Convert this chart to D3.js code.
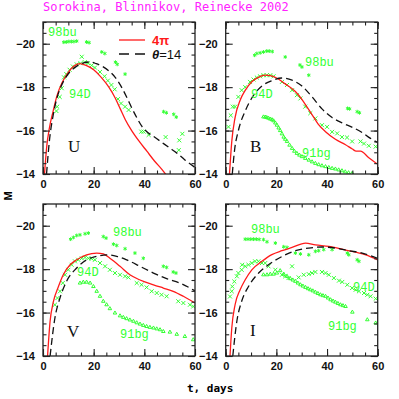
<!DOCTYPE html>
<html>
<head>
<meta charset="utf-8">
<script src="https://cdn.jsdelivr.net/npm/d3@7"></script>
<style>
  body { margin: 0; background: #fff; }
  svg { display: block; }
</style>
</head>
<body>
<svg id="chart" width="399" height="399"></svg>
<script>
// light curves: [t days, M]
const uModel4pi = [[0.6,-14],[1.5,-15.3],[2.5,-16.1],[4,-16.9],[5.5,-17.6],[7.5,-18.2],[9.5,-18.6],[12,-18.95],[14.5,-19.08],[17,-19.0],[20,-18.8],[23,-18.45],[26,-18.0],[28.5,-17.5],[30.5,-17.0],[32.5,-16.5],[35,-16.0],[38,-15.5],[41,-15.05],[44,-14.6],[47,-14.2],[49,-13.9]];
const uModel14 = [[1.4,-14],[2.5,-15.5],[4,-16.7],[5.5,-17.5],[7,-18.0],[9,-18.45],[11,-18.75],[13.5,-18.98],[16,-19.12],[18.5,-19.16],[21,-19.08],[23.5,-18.95],[26,-18.75],[28.5,-18.45],[31,-18.0],[33,-17.55],[35,-17.05],[37,-16.6],[39,-16.2],[41.5,-15.9],[44,-15.7],[47,-15.45],[50,-15.2],[53,-14.95],[56,-14.65],[60,-14.3]];
const u98bu = [[8.2,-20.07],[9.2,-20.08],[10.2,-20.1],[11.2,-20.1],[12.2,-20.1],[13.3,-20.12],[17.2,-20.08],[18.2,-20.05],[23.2,-19.62],[24.4,-19.55],[28.6,-19.15],[29.3,-19.05],[32.4,-18.6],[47.6,-16.87],[48.7,-16.82],[51.6,-16.75],[52.6,-16.62]];
const u94D = [[5.3,-16.9],[5.6,-17.1],[6.6,-17.55],[7.4,-17.95],[8.3,-18.45],[9.2,-18.6],[10.5,-18.8],[11.8,-18.95],[13.3,-19.05],[14.8,-19.1],[15.3,-19.4],[16.5,-19.15],[17.8,-19.1],[19.2,-19.0],[20.5,-18.9],[22.5,-18.7],[24.3,-18.5],[25.6,-18.3],[27,-18.1],[28.3,-17.9],[29.6,-17.45],[30.8,-17.25],[32.4,-17.1],[33.8,-16.95],[38.8,-15.95],[39.7,-15.95],[41.7,-15.8],[48.4,-15.7],[53.6,-15.1],[53.8,-15.55],[55,-15.85]];

const bModel4pi = [[1.5,-14],[2.4,-15.5],[3.7,-16.6],[5.7,-17.4],[7.7,-17.85],[10.3,-18.25],[12.9,-18.45],[15.6,-18.55],[18,-18.52],[20.5,-18.4],[23.5,-18.15],[27.5,-17.8],[30,-17.45],[32,-17.1],[34,-16.75],[36.5,-16.3],[39.4,-15.95],[43.3,-15.6],[47.3,-15.35],[50,-15.15],[51.5,-15.05],[53.2,-15.05],[56.5,-14.75],[60,-14.45]];
const bModel14 = [[2.6,-14],[3.5,-15.1],[5,-16.0],[7.7,-16.9],[10.3,-17.5],[14.3,-18.05],[18.2,-18.3],[22.2,-18.42],[26.2,-18.32],[30.1,-18.05],[34.1,-17.55],[38,-17.0],[42,-16.6],[46,-16.35],[50,-16.15],[54,-15.9],[57,-15.65],[60,-15.45]];
const b98bu = [[11.4,-19.47],[12.3,-19.55],[13.6,-19.58],[14.9,-19.62],[16.2,-19.66],[17.2,-19.66],[18.4,-19.64],[23.5,-19.39],[29.3,-19.02],[30.1,-18.93],[32.8,-18.55],[48.1,-17.02],[48.9,-17.0],[51.9,-16.87],[52.8,-16.82]];
const b94D = [[1.1,-16.17],[2,-16.7],[2.8,-17.1],[3.7,-17.1],[5,-17.55],[6.3,-17.86],[7.7,-18.0],[9.6,-18.24],[11,-18.35],[12.3,-18.44],[13.6,-18.5],[14.9,-18.55],[16.2,-18.55],[17.6,-18.55],[18.9,-18.5],[22.2,-18.24],[24.2,-18.1],[26.2,-17.86],[28.1,-17.63],[29.5,-17.48],[31.4,-17.1],[33.4,-16.8],[35.4,-16.56],[38,-16.25],[40,-16.17],[42,-15.94],[44,-15.87],[45.9,-15.7],[47.9,-15.68],[49.9,-15.5],[53.2,-15.5],[54.6,-15.4],[56.5,-15.3],[59.2,-15.26]];
const b91bg = [[14.9,-16.63],[15.6,-16.62],[16.2,-16.6],[16.9,-16.57],[17.6,-16.53],[18.3,-16.5],[18.9,-16.45],[19.6,-16.35],[20.2,-16.25],[20.9,-16.12],[21.5,-16.0],[22.2,-15.85],[22.9,-15.7],[23.5,-15.6],[24.2,-15.5],[25.2,-15.33],[26.2,-15.18],[27.1,-15.05],[28.1,-14.95],[29.1,-14.87],[30.1,-14.8],[31.4,-14.72],[32.8,-14.64],[34.1,-14.56],[35.4,-14.49],[36.7,-14.43],[38,-14.38],[39.4,-14.34],[40.7,-14.3],[42,-14.26],[43.3,-14.23],[44.6,-14.19],[45.9,-14.15],[47.2,-14.1],[48.5,-14.06],[49.9,-14.03]];

const vModel4pi = [[1.8,-14],[2.8,-15.6],[4.1,-16.5],[6.1,-17.2],[8,-17.74],[10.7,-18.2],[13.3,-18.43],[17.2,-18.66],[21.2,-18.74],[23.8,-18.7],[26.4,-18.5],[30.4,-18.13],[34.3,-17.74],[38.3,-17.5],[43.6,-17.28],[47.5,-17.13],[51.4,-16.98],[55.4,-16.75],[60,-16.44]];
const vModel14 = [[2.8,-14],[4.7,-15.75],[6.7,-16.67],[9.3,-17.44],[13.3,-18.05],[17.2,-18.43],[21.2,-18.59],[25.1,-18.66],[29.1,-18.59],[33,-18.43],[38.3,-18.13],[43.6,-17.82],[48.8,-17.56],[54,-17.36],[60,-17.0]];
const v98bu = [[10.9,-19.38],[12,-19.46],[13.3,-19.55],[14.6,-19.58],[16.6,-19.63],[17.9,-19.66],[23.8,-19.5],[24.9,-19.43],[27.8,-19.15],[29.1,-19.09],[32.4,-18.94],[36.3,-18.74],[39.6,-18.5],[47.5,-18.13],[48.8,-18.08],[51.4,-17.87],[52.5,-17.82]];
const v94D = [[4.7,-16.36],[5.7,-16.67],[6.7,-16.98],[7.8,-17.36],[8.7,-17.74],[10,-17.97],[11.3,-18.2],[12.6,-18.36],[13.9,-18.43],[15.3,-18.5],[16.6,-18.54],[17.9,-18.5],[19.2,-18.48],[20.5,-18.43],[22.5,-18.28],[24.5,-18.13],[26.4,-17.97],[28.4,-17.82],[30.4,-17.74],[32.4,-17.67],[33.7,-17.62],[37,-17.36],[38.9,-17.28],[40.9,-17.16],[42.9,-16.98],[44.9,-16.9],[46.8,-16.82],[48.8,-16.75],[53.4,-16.52],[55.4,-16.44],[58,-16.36],[59.3,-16.28]];
const v91bg = [[14.6,-17.36],[15.9,-17.4],[17.2,-17.4],[18.6,-17.36],[19.9,-17.2],[21.2,-16.98],[22.5,-16.75],[23.8,-16.52],[25.1,-16.36],[26.4,-16.18],[28.4,-15.98],[30.4,-15.85],[31.7,-15.78],[33,-15.72],[34.3,-15.66],[35.7,-15.6],[37,-15.53],[38.3,-15.47],[39.6,-15.41],[40.9,-15.36],[42.2,-15.32],[43.6,-15.29],[44.9,-15.25],[46.2,-15.21],[47.5,-15.13],[50.1,-15.1],[52.8,-15.0],[56,-14.9],[59.3,-14.75]];

const iModel4pi = [[1.7,-14],[2.4,-15.29],[3.7,-16.36],[5.7,-17.05],[7.7,-17.51],[10.3,-17.97],[14.3,-18.36],[18.2,-18.67],[22.2,-18.85],[26.2,-19.0],[31.5,-19.2],[35.4,-19.12],[40.7,-19.05],[46,-18.92],[51.3,-18.78],[55.3,-18.66],[60,-18.43]];
const iModel14 = [[2.8,-14],[4.4,-15.6],[6.3,-16.52],[9,-17.2],[13,-17.82],[16.9,-18.2],[22.2,-18.58],[27.5,-18.85],[32.8,-18.97],[38,-19.02],[43.3,-18.97],[48.6,-18.85],[53.9,-18.74],[60,-18.5]];
const i98bu = [[7.7,-19.38],[8.8,-19.38],[9.9,-19.38],[11,-19.38],[12.1,-19.38],[13.2,-19.37],[14.9,-19.36],[16.3,-19.26],[19.6,-19.2],[22.9,-19.03],[24.2,-19.0],[27.5,-18.74],[29.5,-18.7],[32.8,-18.66],[35.4,-18.82],[36.7,-18.85],[38.7,-18.9],[42,-18.9],[48,-18.74],[48.6,-18.66],[51.9,-18.43],[52.6,-18.36]];
const i94D = [[1.7,-16.74],[2.4,-16.98],[2.6,-17.2],[3.4,-17.43],[4.4,-17.67],[5,-17.82],[6.3,-17.97],[6.5,-18.2],[7.7,-18.13],[9,-18.2],[10.3,-18.28],[11.6,-18.36],[12.9,-18.36],[14.3,-18.28],[15.6,-18.28],[16.9,-18.13],[19.6,-17.97],[22.2,-17.74],[23.5,-17.67],[24.8,-17.59],[26.2,-18.13],[28.8,-17.62],[30.8,-17.74],[32.8,-17.77],[34.1,-17.82],[35.4,-17.87],[38,-17.87],[39.4,-17.82],[40.7,-17.74],[42.7,-17.59],[44.7,-17.47],[46,-17.41],[48,-17.28],[49.9,-17.13],[51.3,-17.05],[52.6,-16.98],[54.6,-16.9],[55.9,-16.82],[57.2,-16.75],[59.2,-16.64]];
const i91bg = [[14.9,-17.74],[16.3,-17.74],[17.6,-17.77],[18.9,-17.77],[20.2,-17.82],[21.5,-17.93],[22.9,-17.77],[24.2,-17.67],[25.5,-17.56],[26.5,-17.5],[27.5,-17.44],[28.5,-17.36],[29.5,-17.28],[30.5,-17.22],[31.5,-17.16],[32.5,-17.1],[33.4,-17.05],[34.4,-17.0],[35.4,-16.94],[36.4,-16.88],[37.4,-16.82],[38.4,-16.78],[39.4,-16.75],[40.4,-16.67],[41.4,-16.59],[42.4,-16.53],[43.3,-16.48],[44.3,-16.42],[45.3,-16.36],[46.3,-16.32],[47.3,-16.28],[50,-16.02],[55.9,-15.67],[59.2,-15.52]];

const xTicks = [0, 20, 40, 60];
const yTicks = [-20, -18, -16, -14];

const panels = [
  { band: "U", left: 43, top: 22, red: uModel4pi, dash: uModel14, bu: u98bu, d: u94D, bg: null,
    labels: [["98bu", 48, 36], ["94D", 69, 98]], bandPos: [68, 152] },
  { band: "B", left: 225.7, top: 22, red: bModel4pi, dash: bModel14, bu: b98bu, d: b94D, bg: b91bg,
    labels: [["98bu", 305, 66], ["94D", 251, 98], ["91bg", 302, 157]], bandPos: [250, 152] },
  { band: "V", left: 43, top: 204, red: vModel4pi, dash: vModel14, bu: v98bu, d: v94D, bg: v91bg,
    labels: [["98bu", 113, 236], ["94D", 77, 276], ["91bg", 120, 338]], bandPos: [67, 337] },
  { band: "I", left: 225.7, top: 204, red: iModel4pi, dash: iModel14, bu: i98bu, d: i94D, bg: i91bg,
    labels: [["94D", 353, 291], ["91bg", 328, 330], ["98bu", 251, 233]], bandPos: [250, 336] }
];

const W = 152, H = 152;
const green = "#33ff33";
const svg = d3.select("#chart");

svg.append("text")
  .attr("x", 43).attr("y", 11)
  .attr("fill", "#ff22ff")
  .attr("font-family", "DejaVu Sans Mono")
  .attr("font-size", 12)
  .text("Sorokina, Blinnikov, Reinecke 2002");

panels.forEach((p, i) => {
  const x = d3.scaleLinear().domain([0, 60]).range([p.left, p.left + W]);
  const y = d3.scaleLinear().domain([-14, -21]).range([p.top + H, p.top]);
  const g = svg.append("g");

  g.append("clipPath").attr("id", "clip" + i)
    .append("rect").attr("x", p.left).attr("y", p.top).attr("width", W).attr("height", H);

  const line = d3.line().x(d => x(d[0])).y(d => y(d[1])).curve(d3.curveMonotoneX);
  const plot = g.append("g").attr("clip-path", `url(#clip${i})`);

  // observations
  const sym = (data, type, size) => plot.selectAll(null)
    .data(data).enter().append("path")
    .attr("transform", d => `translate(${x(d[0])},${y(d[1])})`)
    .attr("d", d3.symbol().type(type).size(size))
    .attr("fill", "none").attr("stroke", green).attr("stroke-width", 1);
  if (p.bg) sym(p.bg, d3.symbolTriangle2, 9);
  sym(p.d, d3.symbolTimes, 12);
  sym(p.bu, d3.symbolAsterisk, 10);

  // models
  plot.append("path").datum(p.red).attr("d", line)
    .attr("fill", "none").attr("stroke", "#ff1a1a").attr("stroke-width", 1.3);
  plot.append("path").datum(p.dash).attr("d", line)
    .attr("fill", "none").attr("stroke", "#111").attr("stroke-width", 1.3)
    .attr("stroke-dasharray", "7,4");

  // axes
  const tickStyle = a => a.call(s => s.select(".domain").remove())
    .call(s => s.selectAll("line").attr("stroke", "#222").attr("stroke-width", 1.1))
    .call(s => s.selectAll("text").attr("font-family", "Liberation Sans").attr("font-weight", "bold")
      .attr("font-size", 11).attr("fill", "#111"));
  const minX = d3.range(0, 61, 5), minY = d3.range(-21, -13.9, 0.5);

  g.append("g").attr("transform", `translate(0,${p.top + H})`)
    .call(d3.axisBottom(x).tickValues(minX).tickSize(-3.5).tickFormat("")).call(tickStyle);
  g.append("g").attr("transform", `translate(0,${p.top + H})`)
    .call(d3.axisBottom(x).tickValues(xTicks).tickSize(-7).tickPadding(6).tickFormat(d3.format("d"))).call(tickStyle);
  g.append("g").attr("transform", `translate(0,${p.top})`)
    .call(d3.axisTop(x).tickValues(minX).tickSize(-3.5).tickFormat("")).call(tickStyle);
  g.append("g").attr("transform", `translate(0,${p.top})`)
    .call(d3.axisTop(x).tickValues(xTicks).tickSize(-7).tickFormat("")).call(tickStyle);
  g.append("g").attr("transform", `translate(${p.left},0)`)
    .call(d3.axisLeft(y).tickValues(minY).tickSize(-3.5).tickFormat("")).call(tickStyle);
  g.append("g").attr("transform", `translate(${p.left},0)`)
    .call(d3.axisLeft(y).tickValues(yTicks).tickSize(-7).tickPadding(8).tickFormat(d3.format("d"))).call(tickStyle);
  g.append("g").attr("transform", `translate(${p.left + W},0)`)
    .call(d3.axisRight(y).tickValues(minY).tickSize(-3.5).tickFormat("")).call(tickStyle);
  g.append("g").attr("transform", `translate(${p.left + W},0)`)
    .call(d3.axisRight(y).tickValues(yTicks).tickSize(-7).tickFormat("")).call(tickStyle);

  g.append("rect").attr("x", p.left).attr("y", p.top).attr("width", W).attr("height", H)
    .attr("fill", "none").attr("stroke", "#222").attr("stroke-width", 1.3);

  g.append("text").attr("x", p.bandPos[0]).attr("y", p.bandPos[1])
    .attr("font-family", "Liberation Serif").attr("font-size", 17).attr("fill", "#111")
    .text(p.band);

  p.labels.forEach(l => g.append("text").attr("x", l[1]).attr("y", l[2])
    .attr("font-family", "Liberation Mono").attr("font-size", 12).attr("fill", green)
    .text(l[0]));
});

// legend
const leg = svg.append("g");
leg.append("line").attr("x1", 119).attr("x2", 145).attr("y1", 40).attr("y2", 40)
  .attr("stroke", "#ff1a1a").attr("stroke-width", 1.3);
leg.append("text").attr("x", 152).attr("y", 44.5).attr("fill", "#ff1a1a")
  .attr("font-family", "Liberation Sans").attr("font-weight", "bold").attr("font-size", 13).text("4π");
leg.append("line").attr("x1", 119).attr("x2", 145).attr("y1", 54).attr("y2", 54)
  .attr("stroke", "#111").attr("stroke-width", 1.3).attr("stroke-dasharray", "10,6");
leg.append("text").attr("x", 152).attr("y", 58.5).attr("fill", "#111")
  .attr("font-family", "Liberation Sans").attr("font-size", 13)
  .html('<tspan font-style="italic" font-weight="bold">θ</tspan>=14');

svg.append("text").attr("transform", "translate(12,196) rotate(-90)")
  .attr("text-anchor", "middle").attr("font-family", "Liberation Sans").attr("font-weight", "bold")
  .attr("font-size", 11).text("M");
svg.append("text").attr("x", 187).attr("y", 392)
  .attr("font-family", "DejaVu Sans Mono").attr("font-weight", "bold").attr("font-size", 11)
  .text("t, days");
</script>
</body>
</html>
